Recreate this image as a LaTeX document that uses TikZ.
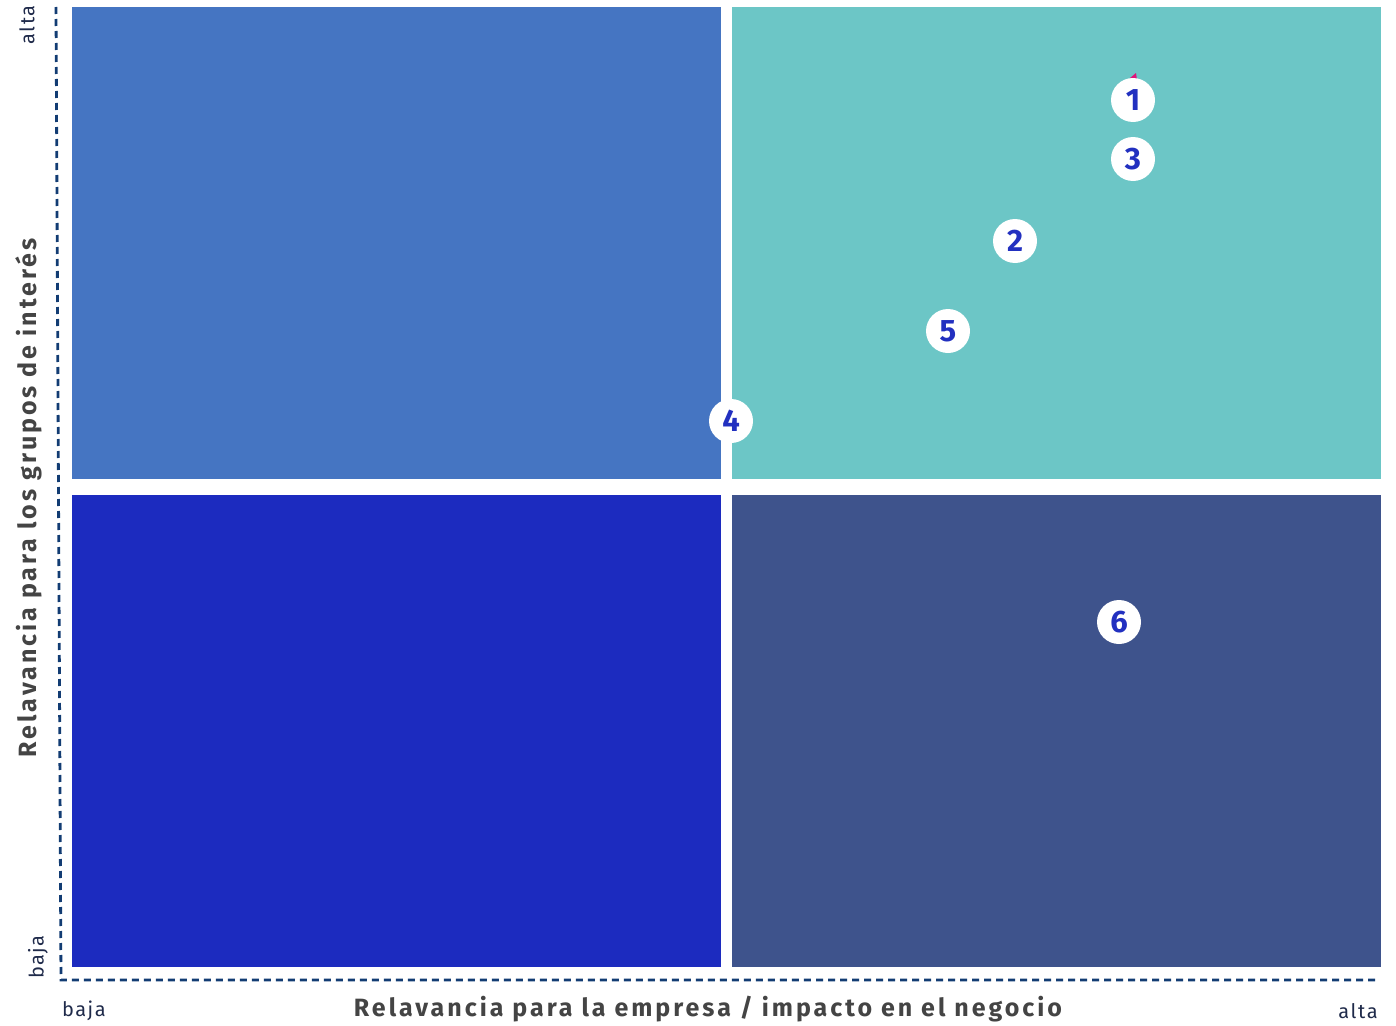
\documentclass[tikz,border=0pt]{standalone}
\usepackage{fontspec}
\setmainfont{Fira Sans}
\newfontfamily\widefont[LetterSpace=12]{Fira Sans}
\newfontfamily\lblfont[LetterSpace=8]{Fira Sans}
\begin{document}
\begin{tikzpicture}[x=1pt,y=-1pt,
  badge/.style={circle,fill=white,minimum size=44pt,inner sep=0pt,font=\fontsize{31}{31}\selectfont\bfseries,text=numc},
  axisline/.style={draw=axc,line width=2.8pt,dash pattern=on 7pt off 5pt},
  ttl/.style={font=\widefont\fontsize{25}{25}\selectfont\bfseries,text=ttlc},
  lbl/.style={font=\lblfont\fontsize{20}{20}\selectfont,text=lblc}]
\definecolor{tlc}{HTML}{4575C2}
\definecolor{trc}{HTML}{6CC6C6}
\definecolor{blc}{HTML}{1C2BBF}
\definecolor{brc}{HTML}{3E538C}
\definecolor{axc}{HTML}{123C73}
\definecolor{numc}{HTML}{2230C0}
\definecolor{ttlc}{HTML}{444444}
\definecolor{lblc}{HTML}{1F2A4A}
\definecolor{magc}{HTML}{E0147A}
\useasboundingbox (0,0) rectangle (1396,1025);
\fill[tlc] (72,7) rectangle (721,479);
\fill[trc] (732,7) rectangle (1381,479);
\fill[blc] (72,495) rectangle (721,967);
\fill[brc] (732,495) rectangle (1381,967);
\coordinate (ytop) at (56,7);
\coordinate (origin) at (61,980);
\coordinate (xend) at (1379,980);
\draw[axisline] (ytop) -- (origin) -- (xend);
\fill[magc] (1130,78) -- (1136,73) -- (1137,80) -- cycle;
\node[badge] (n1) at (1133,100) {1};
\node[badge] (n3) at (1133,159) {3};
\node[badge] (n2) at (1015,241) {2};
\node[badge] (n5) at (948,331) {5};
\node[badge] (n4) at (731,421) {4};
\node[badge] (n6) at (1119,622) {6};
\node[ttl] (xt) at (708,1009) {Relavancia para la empresa / impacto en el negocio};
\node[ttl,rotate=90] (yt) at (29,498) {Relavancia para los grupos de interés};
\node[lbl,rotate=90] (ya) at (27,25) {alta};
\node[lbl,rotate=90] (yb) at (38,957) {baja};
\node[lbl] (xb) at (84,1011) {baja};
\node[lbl] (xa) at (1358,1011) {alta};
\end{tikzpicture}
\end{document}
